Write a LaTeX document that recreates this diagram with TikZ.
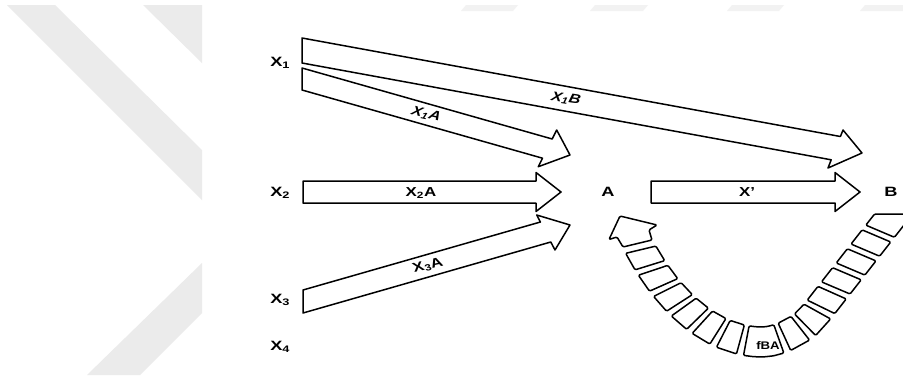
\documentclass[tikz,border=0pt]{standalone}
\usepackage{fontspec}
\setmainfont{Liberation Sans}
\usetikzlibrary{decorations.markings}

% half width of the segmented feedback band
\def\halfband{15}
% one cut across the band: position, name, skew angle
\pgfkeys{/pgf/decoration/.cd,
  bandcut/.style n args={3}{mark=at position #1 with {%
    \coordinate (o#2) at ({\halfband*tan(#3)},\halfband);
    \coordinate (i#2) at ({-\halfband*tan(#3)},-\halfband);}}}

\tikzset{
  blockarrow/.style={draw=black, fill=white, line width=1.5pt, line join=round},
  seg/.style={draw=black, fill=white, line width=1.5pt, line join=round, rounded corners=1.2pt},
  varlbl/.style={font=\fontsize{13.5}{15}\selectfont\bfseries, xscale=1.35, inner sep=0pt},
  arrlbl/.style={font=\fontsize{13}{15}\selectfont\bfseries, xscale=1.3, inner sep=0pt},
  arrlblit/.style={font=\fontsize{13}{15}\selectfont\bfseries\itshape, xscale=1.25, inner sep=0pt},
  fbalbl/.style={font=\fontsize{11}{13}\selectfont\bfseries, xscale=1.2, inner sep=0pt},
  wmark/.style={fill=black!8, draw=none},
  wfaint/.style={fill=black!5, draw=none},
}

\begin{document}
\begin{tikzpicture}[x=1pt, y=-1pt]
\useasboundingbox (0,0) rectangle (903,381);
\clip (0,0) rectangle (903,381);
\fill[white] (0,0) rectangle (903,381);

% light background stripes
\fill[wmark] (7,5) -- (55,5) -- (202,150) -- (202,200) -- cycle;
\fill[wmark] (143,5) -- (202,5) -- (202,63) -- cycle;
\fill[wmark] (87,375) -- (140,375) -- (202,313) -- (202,263) -- cycle;
\fill[wfaint] (461,11) -- (466,5) -- (518,5) -- (513,11) -- cycle;
\fill[wfaint] (590,11) -- (595,5) -- (648,5) -- (643,11) -- cycle;
\fill[wfaint] (727,11) -- (732,5) -- (784,5) -- (779,11) -- cycle;
\fill[wfaint] (860,11) -- (865,5) -- (903,5) -- (903,11) -- cycle;

% variables and states
\node[varlbl, anchor=base west] (x1) at (270,66.7) {X\textsubscript{1}};
\node[varlbl, anchor=base west] (x2) at (270,196.7) {X\textsubscript{2}};
\node[varlbl, anchor=base west] (x3) at (270,303) {X\textsubscript{3}};
\node[varlbl, anchor=base west] (x4) at (270,350) {X\textsubscript{4}};
\node[varlbl, anchor=base] (a) at (608,196.7) {A};
\node[varlbl, anchor=base] (b) at (891,196.7) {B};

% X1 -> B
\draw[blockarrow] (302,38) -- (840.4,136.5) -- (843,130) -- (862,153)
  -- (828,168) -- (831.2,159.8) -- (302,63) -- cycle;
\node[arrlblit, rotate=-10.4] (lx1b) at (566,98.8) {X\textsubscript{1}B};

% X1 -> A
\draw[blockarrow] (302,68) -- (552.2,139) -- (556.7,130) -- (570,155)
  -- (538.3,166.7) -- (542.5,158.2) -- (302,90) -- cycle;
\node[arrlblit, rotate=-15.8] (lx1a) at (426,114.2) {X\textsubscript{1}A};

% X2 -> A
\draw[blockarrow] (303,181) -- (536,181) -- (536,172.5) -- (561,192)
  -- (536,211.5) -- (536,203) -- (303,203) -- cycle;
\node[arrlbl, anchor=base] (lx2a) at (421,196.7) {X\textsubscript{2}A};

% X3 -> A
\draw[blockarrow] (303,290) -- (540.4,222) -- (536.7,215) -- (570,225)
  -- (555,250) -- (550.8,242) -- (303,313) -- cycle;
\node[arrlbl, rotate=16] (lx3a) at (428,265.7) {X\textsubscript{3}A};

% A -> B
\draw[blockarrow] (651,181) -- (835,181) -- (835,172.5) -- (860,192)
  -- (835,211.5) -- (835,203) -- (651,203) -- cycle;
\node[arrlbl, anchor=base] (lxp) at (747,196.7) {X'};

% feedback B -> A: centre line of the segmented band, cut positions
\path[decorate, decoration={markings,
    bandcut={7pt}{1a}{-15}, bandcut={25pt}{1b}{-15},
    bandcut={31pt}{2a}{-15}, bandcut={49pt}{2b}{-14},
    bandcut={55pt}{3a}{-13}, bandcut={73pt}{3b}{-12},
    bandcut={79pt}{4a}{-11}, bandcut={97pt}{4b}{-9},
    bandcut={103pt}{5a}{-8}, bandcut={121pt}{5b}{-6},
    bandcut={127pt}{6a}{-4}, bandcut={145pt}{6b}{-2},
    bandcut={151pt}{Ta}{-1}, bandcut={159.5pt}{Tq}{0},
    bandcut={167.5pt}{Tm}{0}, bandcut={175.5pt}{Tr}{0},
    bandcut={184pt}{Tb}{1},
    bandcut={190pt}{r1a}{2}, bandcut={208pt}{r1b}{4},
    bandcut={214pt}{r2a}{6}, bandcut={232pt}{r2b}{9},
    bandcut={238pt}{r3a}{12}, bandcut={256pt}{r3b}{14},
    bandcut={262pt}{r4a}{15}, bandcut={280pt}{r4b}{15},
    bandcut={286pt}{r5a}{15}, bandcut={304pt}{r5b}{15},
    bandcut={310pt}{r6a}{15}, bandcut={328pt}{r6b}{15},
    bandcut={334pt}{r7a}{15}, bandcut={0.999}{r7b}{15}}]
  (637.5,243.5) .. controls (668,303) and (713,342) .. (762,342)
  .. controls (780,342) and (804,328.5) .. (813.3,316.7) -- (905,199.4);

\foreach \n in {1,2,3,4,5,6,r1,r2,r3,r4,r5,r6}
  \draw[seg] (o\n a) -- (o\n b) -- (i\n b) -- (i\n a) -- cycle;

% bottom segment carrying the label
\draw[seg] (oTa) -- (oTq) -- (oTm) -- (oTr) -- (oTb)
  -- (iTb) -- (iTr) -- (iTm) -- (iTq) -- (iTa) -- cycle;
\node[fbalbl] (fba) at (768,346) {fBA};

% last segment, cut level below B
\coordinate (r7o) at (intersection of or7a--or7b and 600,214--950,214);
\coordinate (r7i) at (intersection of ir7a--ir7b and 600,214--950,214);
\draw[seg] (or7a) -- (r7o) -- (r7i) -- (ir7a) -- cycle;

% arrow head entering A
\draw[seg] (620,216) -- (657,225) -- (649,230) -- (652,240)
  -- (623,247) -- (617,237) -- (609,239.5) -- cycle;
\end{tikzpicture}
\end{document}
